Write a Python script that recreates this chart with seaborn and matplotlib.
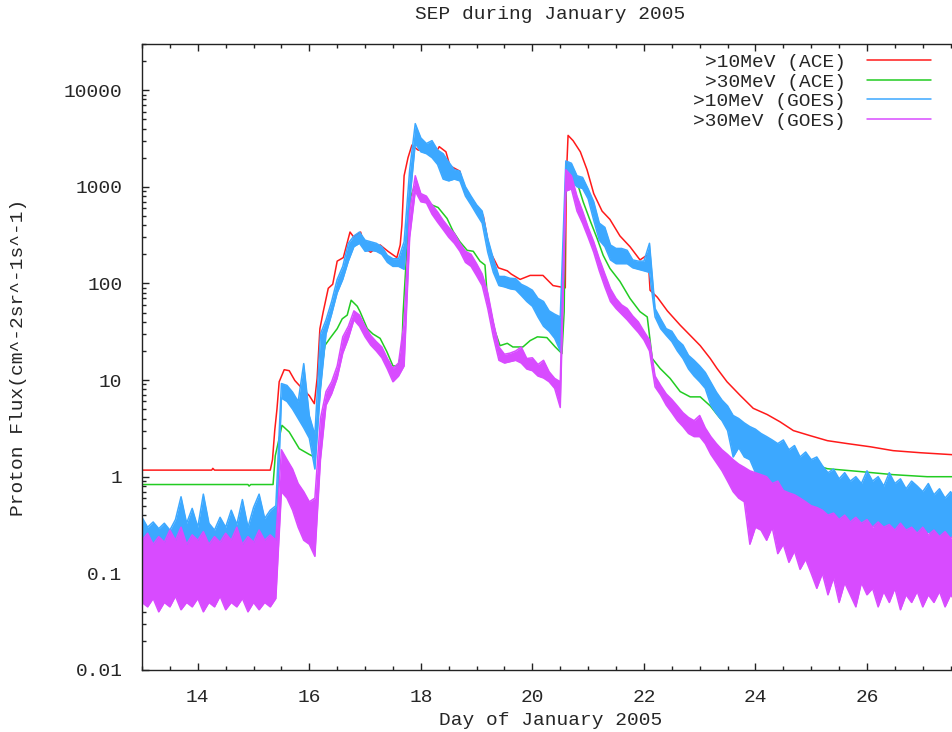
import numpy as np
import matplotlib
matplotlib.use('Agg')
import matplotlib.pyplot as plt
import seaborn as sns
from matplotlib.lines import Line2D
from matplotlib.ticker import LogLocator, MultipleLocator, NullFormatter

# ACE curves (smooth)
ace10_day = [13.0, 14.25, 14.27, 14.3, 15.3, 15.34, 15.38, 15.42, 15.46, 15.55,
             15.64, 15.74, 15.87, 16.0, 16.09, 16.14, 16.19, 16.25, 16.34, 16.42,
             16.5, 16.61, 16.73, 16.8, 16.86, 16.92, 17.0, 17.1, 17.27, 17.41,
             17.57, 17.63, 17.66, 17.7, 17.77, 17.84, 17.95, 18.1, 18.22, 18.33,
             18.45, 18.52, 18.7, 18.79, 18.94, 19.12, 19.19, 19.24, 19.39, 19.55,
             19.62, 19.78, 19.96, 20.19, 20.37, 20.59, 20.61, 20.64, 20.73, 20.86,
             20.98, 21.1, 21.25, 21.39, 21.57, 21.75, 21.93, 22.05, 22.08, 22.11,
             22.24, 22.42, 22.65, 22.83, 23.01, 23.19, 23.31, 23.49, 23.73, 23.96,
             24.21, 24.44, 24.68, 24.98, 25.29, 25.65, 26.06, 26.47, 26.96, 27.53,
             27.7]
ace10_flux = [1.17, 1.17, 1.22, 1.17, 1.17, 1.5, 3.0, 5.0, 9.6, 12.8,
              12.5, 9.9, 8.2, 6.9, 5.7, 10.4, 34, 51, 89, 98,
              170, 185, 340, 300, 320, 340, 230, 210, 250, 215,
              185, 250, 400, 1300, 2000, 2700, 2400, 2350, 2000, 2600,
              2300, 1650, 1450, 860, 710, 500, 300, 215, 145, 135,
              125, 110, 121, 121, 95, 90, 1300, 3400, 3000, 2300,
              1500, 850, 560, 460, 310, 240, 175, 195, 170, 85,
              72, 52, 37, 29, 22.7, 16.7, 13.2, 9.6, 6.9, 5.1,
              4.4, 3.7, 3.0, 2.66, 2.36, 2.2, 2.04, 1.86, 1.77, 1.69,
              1.67]

ace30_day = [13.0, 14.9, 14.92, 14.95, 15.35, 15.39, 15.46, 15.51, 15.64, 15.82,
             16.0, 16.09, 16.16, 16.23, 16.28, 16.37, 16.5, 16.59, 16.68, 16.75,
             16.86, 16.91, 17.04, 17.14, 17.27, 17.39, 17.5, 17.59, 17.66, 17.68,
             17.75, 17.81, 17.88, 17.99, 18.11, 18.22, 18.31, 18.47, 18.58, 18.7,
             18.83, 18.94, 19.06, 19.15, 19.19, 19.24, 19.33, 19.42, 19.55, 19.65,
             19.83, 19.96, 20.09, 20.26, 20.41, 20.53, 20.57, 20.59, 20.62, 20.71,
             20.8, 20.91, 21.04, 21.16, 21.27, 21.39, 21.57, 21.75, 21.93, 22.06,
             22.15, 22.29, 22.47, 22.65, 22.83, 23.01, 23.19, 23.37, 23.6, 23.91,
             24.21, 24.57, 24.8, 25.29, 25.88, 26.47, 27.08, 27.53, 27.7]
ace30_flux = [0.83, 0.83, 0.8, 0.83, 0.83, 1.65, 2.5, 3.4, 2.9, 1.95,
              1.7, 1.6, 5.0, 14, 22.8, 27, 34, 43, 47, 67,
              58, 51, 34, 30, 27, 19.7, 14, 14, 19.7, 47,
              231, 760, 1000, 800, 700, 640, 610, 470, 345, 270,
              220, 215, 170, 155, 75, 55, 32, 22.7, 24, 22,
              22, 25.6, 28, 27.5, 22, 18.8, 51, 600, 1680, 1450,
              1120, 700, 440, 293, 195, 143, 105, 70, 51, 45,
              16.7, 13.2, 10.4, 7.6, 6.7, 6.7, 5.4, 4.0, 3.3, 2.5,
              1.95, 1.6, 1.47, 1.21, 1.13, 1.05, 1.0, 1.0, 0.98]

# GOES 5-minute data: upper / lower edge of the noisy band every 0.1 day
goes_day = np.round(np.arange(130, 278) / 10, 1)

goes10_hi = [0.38, 0.30, 0.34, 0.29, 0.33, 0.28, 0.36, 0.62, 0.33, 0.47,
             0.30, 0.66, 0.33, 0.28, 0.38, 0.30, 0.45, 0.32, 0.58, 0.30,
             0.48, 0.66, 0.37, 0.45, 0.50, 9.2, 8.8, 7.5, 6.0, 14.8,
             4.3, 2.7, 30, 42, 65, 110, 150, 260, 310, 340,
             280, 270, 260, 240, 195, 180, 180, 270, 1500, 4500,
             3200, 2800, 3000, 2400, 2200, 1800, 1500, 1450, 1000, 800,
             650, 560, 290, 180, 118, 118, 113, 112, 98, 92,
             85, 70, 65, 52, 48, 45, 1850, 1750, 1300, 1250,
             950, 700, 420, 380, 250, 230, 230, 220, 175, 170,
             170, 260, 55, 43, 34, 32, 26, 23, 18, 16,
             14, 12, 9.5, 7.5, 6.2, 5.4, 4.3, 4.0, 3.6, 3.3,
             3.1, 2.8, 2.6, 2.4, 2.2, 2.4, 1.9, 2.1, 1.6, 1.8,
             1.5, 1.6, 1.3, 1.1, 1.2, 0.95, 1.1, 0.9, 1.0, 0.85,
             1.15, 0.9, 1.0, 0.8, 1.1, 0.85, 0.95, 0.75, 0.9, 0.8,
             0.7, 0.85, 0.65, 0.75, 0.6, 0.7, 0.55, 0.65]
goes10_lo = [0.16, 0.13, 0.18, 0.14, 0.2, 0.15, 0.17, 0.13, 0.19, 0.15,
             0.17, 0.14, 0.19, 0.13, 0.16, 0.18, 0.14, 0.17, 0.15, 0.09,
             0.16, 0.14, 0.18, 0.15, 0.17, 6.5, 6.0, 5.0, 4.0, 3.2,
             2.5, 1.2, 8, 30, 48, 80, 110, 170, 240, 260,
             215, 220, 215, 200, 165, 150, 150, 140, 700, 2800,
             2300, 2200, 2000, 1700, 1200, 1150, 1200, 1150, 800, 650,
             520, 420, 210, 130, 95, 92, 88, 86, 75, 65,
             58, 45, 36, 32, 27, 20, 1200, 1150, 1000, 960,
             750, 450, 280, 240, 175, 160, 160, 160, 145, 140,
             135, 130, 45, 34, 29, 25, 20, 16.7, 13, 11,
             9.6, 8.2, 5.5, 4.5, 3.8, 3.0, 1.6, 2.0, 1.6, 1.5,
             1.1, 0.7, 0.9, 0.6, 0.75, 0.6, 0.55, 0.5, 0.55, 0.45,
             0.5, 0.4, 0.42, 0.38, 0.4, 0.33, 0.35, 0.3, 0.33, 0.3,
             0.28, 0.32, 0.27, 0.3, 0.26, 0.28, 0.3, 0.25, 0.28, 0.26,
             0.24, 0.27, 0.23, 0.25, 0.22, 0.24, 0.22, 0.23]

goes30_hi = [0.22, 0.26, 0.2, 0.24, 0.21, 0.28, 0.22, 0.3, 0.2, 0.25,
             0.22, 0.27, 0.2, 0.24, 0.21, 0.26, 0.22, 0.3, 0.2, 0.24,
             0.21, 0.28, 0.22, 0.25, 0.22, 1.9, 1.5, 1.2, 0.85, 0.7,
             0.55, 0.6, 4.0, 7.6, 9.6, 14, 28, 36, 52, 47,
             36, 29, 25, 22, 16.7, 13.2, 15, 40, 550, 1300,
             850, 800, 650, 550, 450, 380, 330, 260, 215, 200,
             160, 125, 80, 40, 22, 18.5, 19, 20, 22, 16.7,
             17, 14.5, 16, 12.2, 10.4, 9.6, 1500, 1300, 800, 560,
             380, 270, 180, 125, 88, 70, 60, 55, 46, 40,
             32, 26, 11, 8.8, 7.2, 6.3, 5.4, 4.6, 4.1, 3.8,
             4.3, 3.2, 2.6, 2.2, 1.9, 1.7, 1.5, 1.35, 1.25, 1.15,
             1.1, 1.05, 1.0, 0.85, 0.9, 0.72, 0.68, 0.65, 0.6, 0.55,
             0.5, 0.48, 0.45, 0.4, 0.42, 0.36, 0.4, 0.34, 0.38, 0.33,
             0.36, 0.3, 0.34, 0.3, 0.32, 0.28, 0.33, 0.28, 0.3, 0.26,
             0.3, 0.25, 0.28, 0.24, 0.27, 0.23, 0.26, 0.22]
goes30_lo = [0.05, 0.045, 0.055, 0.04, 0.05, 0.045, 0.058, 0.042, 0.05, 0.045,
             0.055, 0.04, 0.05, 0.045, 0.058, 0.042, 0.05, 0.045, 0.055, 0.04,
             0.05, 0.042, 0.05, 0.045, 0.055, 0.7, 0.6, 0.45, 0.3, 0.22,
             0.2, 0.15, 1.5, 5.5, 7.2, 10.5, 19, 27, 42, 36,
             28, 23, 20, 17, 13, 9.6, 11, 14, 300, 900,
             700, 680, 520, 430, 360, 300, 260, 215, 165, 150,
             120, 95, 55, 28, 16, 15, 15.5, 16, 15, 13,
             12.5, 11, 10.5, 9.6, 8.2, 5.2, 900, 950, 560, 420,
             300, 210, 135, 92, 65, 55, 48, 42, 36, 31,
             26, 20, 8.5, 7.0, 5.5, 4.6, 3.8, 3.3, 2.8, 2.6,
             2.6, 2.2, 1.7, 1.4, 1.15, 0.9, 0.7, 0.6, 0.55, 0.2,
             0.3, 0.28, 0.22, 0.3, 0.16, 0.2, 0.13, 0.17, 0.11, 0.14,
             0.1, 0.07, 0.1, 0.06, 0.09, 0.05, 0.08, 0.06, 0.045, 0.08,
             0.06, 0.07, 0.045, 0.065, 0.05, 0.07, 0.042, 0.06, 0.05, 0.065,
             0.045, 0.06, 0.05, 0.065, 0.045, 0.06, 0.05, 0.055]

series_labels = ['>10MeV (ACE)', '>30MeV (ACE)', '>10MeV (GOES)', '>30MeV (GOES)']
yticks = [0.01, 0.1, 1, 10, 100, 1000, 10000]
ytick_labels = ['0.01', '0.1', '1', '10', '100', '1000', '10000']
xticks = [14, 16, 18, 20, 22, 24, 26]

red, green, blue, magenta = '#ff1a1a', '#22cc22', '#3ca8ff', '#d84bff'
colors = [red, green, blue, magenta]

sns.set_theme(style='ticks')
plt.rcParams['font.family'] = ['Liberation Mono', 'DejaVu Sans Mono']

fig = plt.figure(figsize=(9.52, 7.32), dpi=100)
# plot box runs a little past the right edge of the image, as in the original
ax = fig.add_axes([142 / 952, 62 / 732, 817 / 952, 626 / 732])

sns.lineplot(x=ace10_day, y=ace10_flux, color=red, lw=1.1, estimator=None,
             ax=ax, zorder=2)
sns.lineplot(x=ace30_day, y=ace30_flux, color=green, lw=1.1, estimator=None,
             ax=ax, zorder=2.1)

# GOES bands drawn after the ACE lines, magenta on top
ax.fill_between(goes_day, goes10_lo, goes10_hi, color=blue, lw=0, zorder=3)
sns.lineplot(x=goes_day, y=goes10_hi, color=blue, lw=1.1, estimator=None,
             ax=ax, zorder=3.1)
sns.lineplot(x=goes_day, y=goes10_lo, color=blue, lw=1.1, estimator=None,
             ax=ax, zorder=3.1)

ax.fill_between(goes_day, goes30_lo, goes30_hi, color=magenta, lw=0, zorder=4)
sns.lineplot(x=goes_day, y=goes30_hi, color=magenta, lw=1.1, estimator=None,
             ax=ax, zorder=4.1)
sns.lineplot(x=goes_day, y=goes30_lo, color=magenta, lw=1.1, estimator=None,
             ax=ax, zorder=4.1)

ax.set_yscale('log')
ax.set_ylim(0.01, 30000)
ax.set_xlim(13, 27.65)
ax.set_yticks(yticks)
ax.set_yticklabels(ytick_labels)
ax.yaxis.set_minor_locator(LogLocator(base=10, subs=np.arange(2, 10)))
ax.yaxis.set_minor_formatter(NullFormatter())
ax.set_xticks(xticks)
ax.set_xticklabels([str(t) for t in xticks])
ax.xaxis.set_minor_locator(MultipleLocator(0.5))

ax.tick_params(which='both', direction='in', top=True, right=True, color='#222222')
ax.tick_params(which='major', length=5, width=1, pad=14, labelsize=14)
ax.tick_params(which='minor', length=3, width=1)
for sp in ax.spines.values():
    sp.set_linewidth(1.0)
    sp.set_color('#222222')
    sp.set_zorder(5)

ax.set_title('SEP during January 2005', fontsize=14, pad=18)
ax.set_xlabel('Day of January 2005', fontsize=14)
ax.set_ylabel('Proton Flux(cm^-2sr^-1s^-1)', fontsize=14)
ax.xaxis.set_label_coords(0.5, -0.067)
ax.yaxis.set_label_coords(-0.141, 0.5)

# gnuplot-style key: text right-aligned, line sample to the right
handles = [Line2D([], [], color=c, lw=1.1) for c in colors]
leg = ax.legend(handles, series_labels, loc='upper right', bbox_to_anchor=(0.966, 0.985),
                frameon=False, markerfirst=False, handlelength=3.3, handletextpad=1.1,
                labelspacing=0.1, borderpad=0, borderaxespad=0, fontsize=14)
leg.set_zorder(6)

fig.savefig('out.png', dpi=100)
